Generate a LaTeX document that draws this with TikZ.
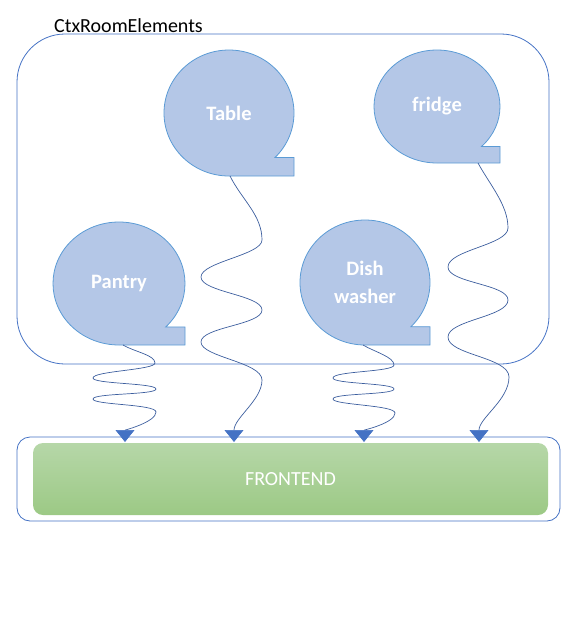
\documentclass[tikz,border=0pt]{standalone}
\usepackage{fontspec}
\setmainfont{Carlito}
\usetikzlibrary{arrows.meta,calc,shapes.geometric}
\definecolor{bubblefill}{HTML}{B4C7E7}
\definecolor{bubbleline}{HTML}{5B9BD5}
\definecolor{boxline}{HTML}{4472C4}
\definecolor{waveline}{HTML}{3C5E9E}
\definecolor{tipfill}{HTML}{4472C4}
\definecolor{greentop}{HTML}{B6D7A8}
\definecolor{greenbot}{HTML}{9CC985}
\newcommand\mybubble[6]{%
  \filldraw[bubbleshape] ($(#2,#3)+(45:#4 and #5)$) arc[start angle=45, end angle=-270, x radius=#4, y radius=#5]
    -- (#2+#4,#3+#5) -- ({#2+#4},{#3+#5*sin(45)}) -- cycle;
  \node[bubbletext, minimum width=2*#4 pt, minimum height=2*#5 pt] (#1) at (#2,#3) {#6};
}
\begin{document}
\begin{tikzpicture}[x=1pt,y=-1pt,
  bubbleshape/.style={fill=bubblefill, draw=bubbleline, line width=0.8pt},
  bubbletext/.style={ellipse, inner sep=0pt, outer sep=0pt, text=white, align=center,
    font=\fontsize{20.5}{28}\selectfont\bfseries},
  container/.style={draw=boxline, line width=0.8pt, rectangle, inner sep=0pt, outer sep=0pt},
  wave/.style={draw=waveline, line width=0.7pt,
    -{Triangle[width=19pt,length=12pt,color=tipfill,fill=tipfill]}},
  greenbox/.style={rectangle, rounded corners=10pt, inner sep=0pt, top color=greentop,
    bottom color=greenbot, draw=none, text=white, font=\fontsize{20}{24}\selectfont}]
\useasboundingbox (0,0) rectangle (581,641);
\node[anchor=base west, inner sep=0pt, font=\fontsize{20}{24}\selectfont] (title) at (54,32) {CtxRoomElements};
\node[container, rounded corners=48pt, minimum width=532pt, minimum height=330pt] (room) at (283,199) {};
\node[container, rounded corners=13pt, minimum width=543pt, minimum height=84pt] (frame) at (288.5,479) {};
\node[greenbox, minimum width=515pt, minimum height=72pt] (frontend) at (290.5,479) {FRONTEND};
\mybubble{table}{229}{113}{65}{63}{Table}
\mybubble{fridge}{437}{106.5}{63}{56.5}{\raisebox{3pt}{fridge}}
\mybubble{pantry}{119}{283.5}{66}{61.5}{Pantry}
\mybubble{dish}{365}{282.5}{65}{62.5}{Dish\\washer}
\coordinate (t0) at (125,442);
\coordinate (t1) at (234,442);
\coordinate (t2) at (364,442);
\coordinate (t3) at (479,442);
\draw[wave] ([xshift=4pt]pantry.south)
  .. controls (135,352) and (155,355) .. (155,363)
  .. controls (155,370) and (93,371) .. (93,378)
  .. controls (93,384) and (156,383) .. (156,389)
  .. controls (156,395) and (93,393) .. (93,399)
  .. controls (93,405) and (156,404) .. (156,412)
  .. controls (156,422) and (125,430) .. (t0);
\draw[wave] ([xshift=1pt]table.south)
  .. controls (242,200) and (262,215) .. (262,240)
  .. controls (262,255) and (201,262) .. (201,277)
  .. controls (201,292) and (262,295) .. (262,310)
  .. controls (262,325) and (201,327) .. (201,342)
  .. controls (201,357) and (262,362) .. (262,380)
  .. controls (262,400) and (234,418) .. (t1);
\draw[wave] ([xshift=-2pt]dish.south)
  .. controls (375,352) and (394,357) .. (394,365)
  .. controls (394,372) and (333,371) .. (333,378)
  .. controls (333,384) and (394,383) .. (394,389)
  .. controls (394,395) and (333,393) .. (333,399)
  .. controls (333,405) and (395,405) .. (395,413)
  .. controls (395,423) and (364,430) .. (t2);
\draw[wave] ([xshift=41pt]fridge.south)
  .. controls (490,185) and (508,205) .. (508,228)
  .. controls (508,245) and (448,250) .. (448,267)
  .. controls (448,283) and (508,284) .. (508,300)
  .. controls (508,317) and (448,320) .. (448,337)
  .. controls (448,355) and (509,357) .. (509,377)
  .. controls (509,400) and (479,418) .. (t3);
\end{tikzpicture}
\end{document}
